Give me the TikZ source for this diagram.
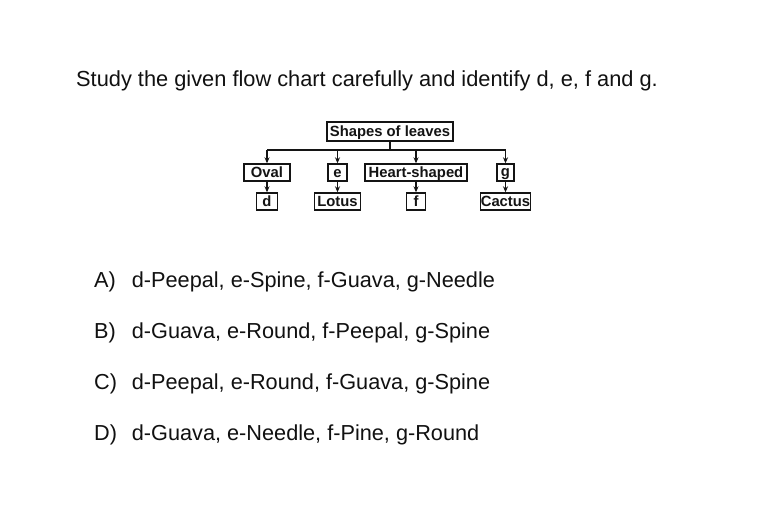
\documentclass[tikz,border=0pt]{standalone}
\usepackage{fontspec}
\setmainfont{Liberation Sans}
\usetikzlibrary{arrows.meta}
\definecolor{ink}{HTML}{141414}
\definecolor{txtc}{HTML}{111111}
\begin{document}
\begin{tikzpicture}[x=1pt,y=-1pt,
  box/.style={draw=ink, line width=1.35pt, inner sep=0pt, minimum height=17pt,
    text height=10.4pt, text depth=0pt, text=ink,
    font=\fontsize{14.8}{16}\selectfont\bfseries},
  conn/.style={draw=ink, line width=1.1pt},
  arr/.style={conn, -{Stealth[length=6pt,width=5pt]}},
  txt/.style={inner sep=0pt, anchor=base west, text=txtc,
    font=\fontsize{21.7}{26}\selectfont}
]
\useasboundingbox (0,0) rectangle (781,521);
\fill[white] (0,0) rectangle (781,521);

\node[txt, font=\fontsize{21.8}{26}\selectfont] (title) at (76,86.7)
  {Study the given flow chart carefully and identify d, e, f and g.};

% flow chart
\node[box, minimum width=126pt, minimum height=19pt] (top) at (390,131.5) {Shapes of leaves};
\node[box, minimum width=46pt] (oval) at (267,172.5) {Oval};
\node[box, minimum width=19pt] (e) at (337.5,172.5) {e};
\node[box, minimum width=102pt] (heart) at (416,172.5) {Heart-shaped};
\node[box, minimum width=17pt] (g) at (505.5,172.5) {\raisebox{1.5pt}{g}};
\node[box, minimum width=21pt] (d) at (267,201.5) {d};
\node[box, minimum width=46pt] (lotus) at (337.5,201.5) {Lotus};
\node[box, minimum width=19pt] (f) at (416,201.5) {f};
\node[box, minimum width=50pt] (cactus) at (505.5,201.5) {Cactus};

\coordinate (bus) at (390,150);
\draw[conn] (top.south) -- (bus);
\draw[conn] (oval.north |- bus) -- (g.north |- bus);
\foreach \n in {oval,e,heart,g} \draw[arr] (\n.north |- bus) -- (\n.north);
\draw[arr] (oval.south) -- (d.north);
\draw[arr] (e.south) -- (lotus.north);
\draw[arr] (heart.south) -- (f.north);
\draw[arr] (g.south) -- (cactus.north);

% options
\node[txt] (la) at (94,287.5) {A)};
\node[txt] (ta) at (131.7,287.5) {d-Peepal, e-Spine, f-Guava, g-Needle};
\node[txt] (lb) at (94,338.5) {B)};
\node[txt] (tb) at (131.7,338.5) {d-Guava, e-Round, f-Peepal, g-Spine};
\node[txt] (lc) at (94,389.5) {C)};
\node[txt] (tc) at (131.7,389.5) {d-Peepal, e-Round, f-Guava, g-Spine};
\node[txt] (ld) at (94,440.5) {D)};
\node[txt] (td) at (131.7,440.5) {d-Guava, e-Needle, f-Pine, g-Round};
\end{tikzpicture}
\end{document}
